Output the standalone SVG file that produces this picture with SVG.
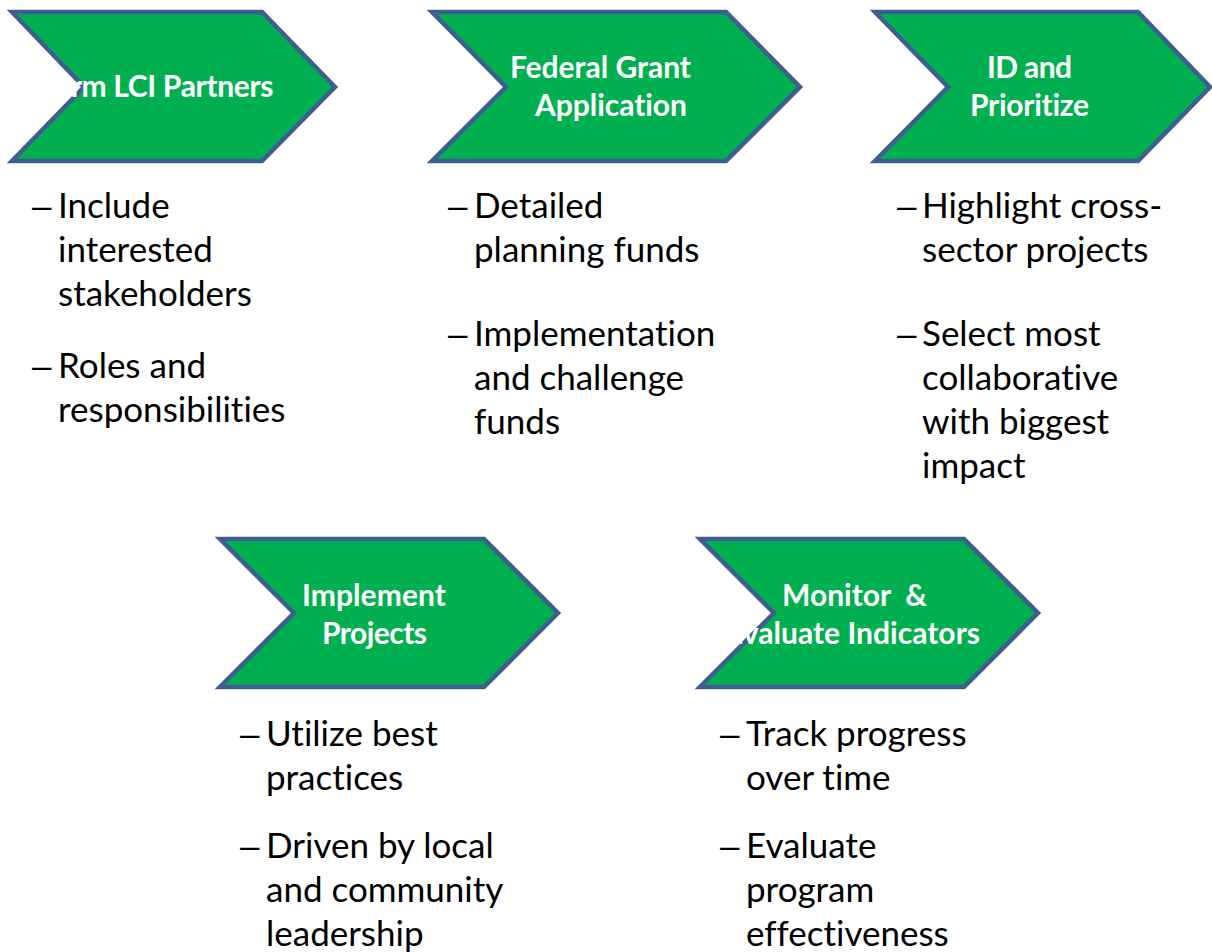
<svg xmlns="http://www.w3.org/2000/svg" width="1212" height="952" viewBox="0 0 1212 952">
<style>
.chev{fill:#00B050;stroke:#3C5F8F;stroke-width:4.5;stroke-linejoin:miter}
.hd{font-family:Lato,"Liberation Sans",sans-serif;font-weight:bold;font-size:30px;fill:#fff;text-anchor:middle;font-variant-ligatures:none}
.bl{font-family:Lato,"Liberation Sans",sans-serif;font-size:35px;fill:#000;font-variant-ligatures:none}
.ds{font-family:"Liberation Sans",sans-serif;font-size:35px;fill:#000}
</style>
<rect width="1212" height="952" fill="#fff"/>
<g id="connectors"></g>
<g id="step1">
<polygon class="chev" points="12,12 262,12 335,87 262,161 12,161 84,87"/>
<text class="hd" x="156" y="97" textLength="235">Form LCI Partners</text>
</g>
<g id="step2">
<polygon class="chev" points="432,12 726,12 800,87 726,161 432,161 506,87"/>
<text class="hd" x="600.5" y="78" textLength="181">Federal Grant</text>
<text class="hd" x="611" y="116" textLength="152">Application</text>
</g>
<g id="step3">
<polygon class="chev" points="875,12 1138,12 1210,87 1138,161 875,161 948,87"/>
<text class="hd" x="1029.5" y="78" textLength="85">ID and</text>
<text class="hd" x="1029.5" y="116" textLength="119">Prioritize</text>
</g>
<g id="step4">
<polygon class="chev" points="220,539 484,539 558,613 484,687 220,687 294,613"/>
<text class="hd" x="374" y="606" textLength="144">Implement</text>
<text class="hd" x="374.5" y="644" textLength="105">Projects</text>
</g>
<g id="step5">
<polygon class="chev" points="700,539 964,539 1038,613 964,687 700,687 774,613"/>
<text class="hd" x="854.5" y="606" xml:space="preserve" textLength="145">Monitor  &amp;</text>
<text class="hd" x="853" y="644" textLength="254">Evaluate Indicators</text>
</g>
<g id="bullets1">
<text class="ds" x="32" y="218">–</text><text class="bl" x="58" y="218">Include</text>
<text class="bl" x="58" y="262">interested</text>
<text class="bl" x="58" y="306">stakeholders</text>
<text class="ds" x="32" y="378">–</text><text class="bl" x="58" y="378">Roles and</text>
<text class="bl" x="58" y="422">responsibilities</text>
</g>
<g id="bullets2">
<text class="ds" x="448" y="218">–</text><text class="bl" x="474" y="218">Detailed</text>
<text class="bl" x="474" y="262">planning funds</text>
<text class="ds" x="448" y="346">–</text><text class="bl" x="474" y="346">Implementation</text>
<text class="bl" x="474" y="390">and challenge</text>
<text class="bl" x="474" y="434">funds</text>
</g>
<g id="bullets3">
<text class="ds" x="897" y="218">–</text><text class="bl" x="922" y="218">Highlight cross-</text>
<text class="bl" x="922" y="262">sector projects</text>
<text class="ds" x="897" y="346">–</text><text class="bl" x="922" y="346">Select most</text>
<text class="bl" x="922" y="390">collaborative</text>
<text class="bl" x="922" y="434">with biggest</text>
<text class="bl" x="922" y="478">impact</text>
</g>
<g id="bullets4">
<text class="ds" x="240" y="746">–</text><text class="bl" x="266" y="746">Utilize best</text>
<text class="bl" x="266" y="790">practices</text>
<text class="ds" x="240" y="858">–</text><text class="bl" x="266" y="858">Driven by local</text>
<text class="bl" x="266" y="902">and community</text>
<text class="bl" x="266" y="946">leadership</text>
</g>
<g id="bullets5">
<text class="ds" x="720" y="746">–</text><text class="bl" x="746" y="746">Track progress</text>
<text class="bl" x="746" y="790">over time</text>
<text class="ds" x="720" y="858">–</text><text class="bl" x="746" y="858">Evaluate</text>
<text class="bl" x="746" y="902">program</text>
<text class="bl" x="746" y="946">effectiveness</text>
</g>
</svg>
